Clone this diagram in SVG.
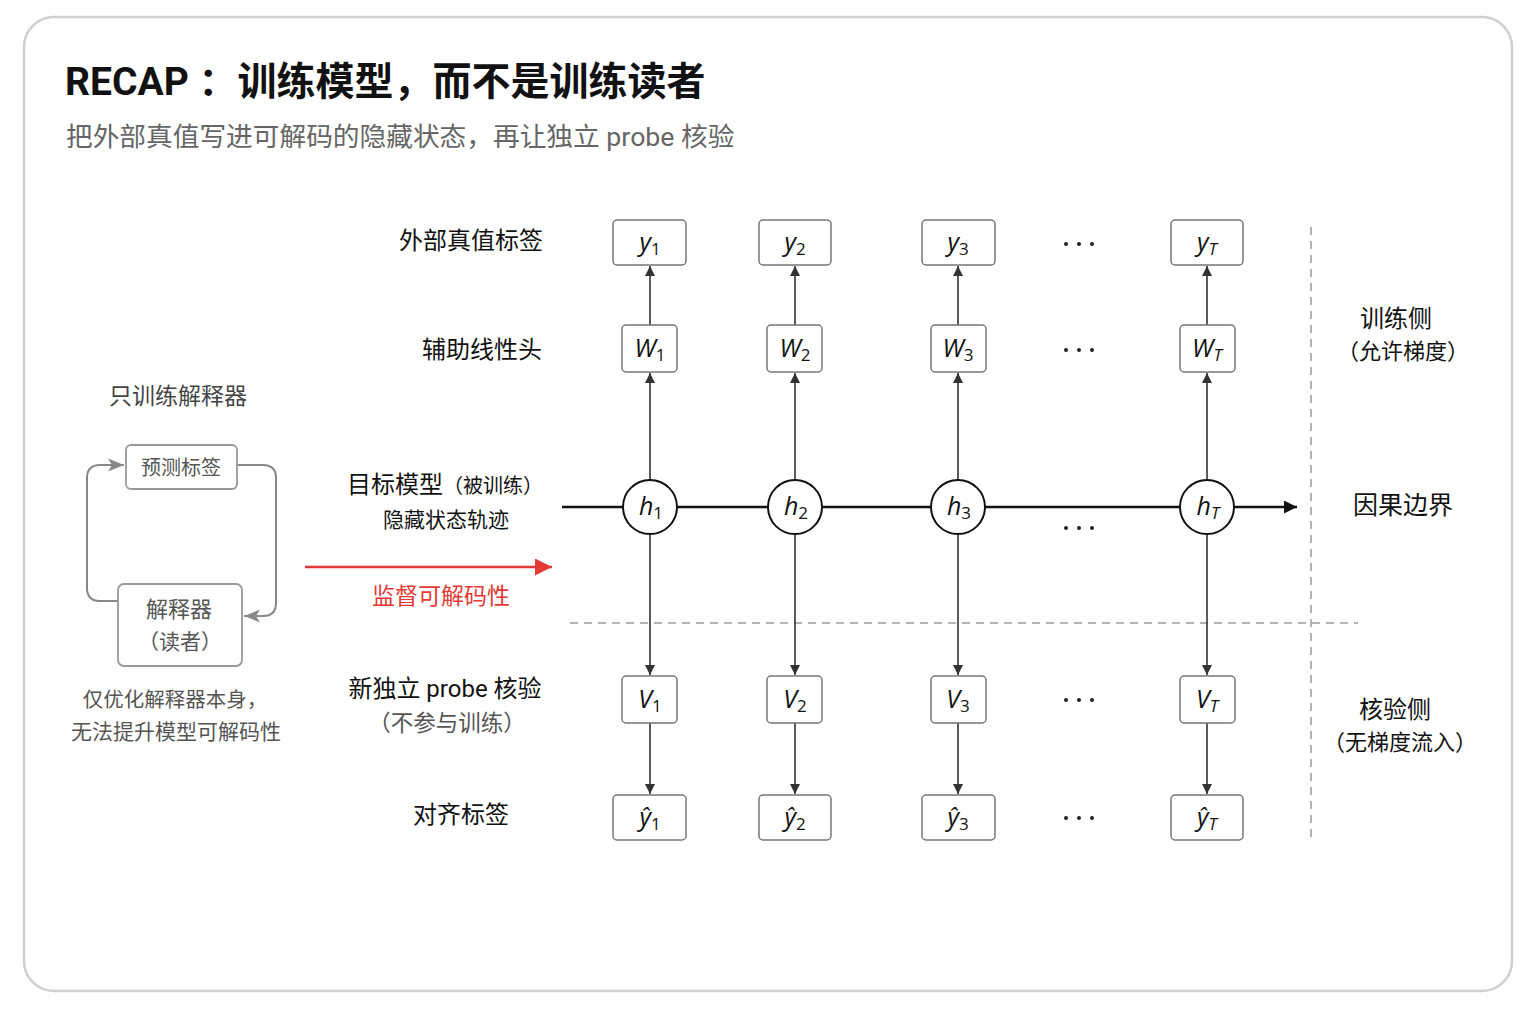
<svg xmlns="http://www.w3.org/2000/svg" width="1536" height="1024" viewBox="0 0 1536 1024">
<style>
.cjk{font-family:Roboto,"Noto Sans CJK SC",sans-serif}
.lbl{font-family:Roboto,"Noto Sans CJK SC",sans-serif;font-size:24px;fill:#111;text-anchor:middle}
.gl{font-family:Roboto,"Noto Sans CJK SC",sans-serif;fill:#555;text-anchor:middle}
.box{fill:#fff;stroke:#777;stroke-width:1.5}
.lbox{fill:#fff;stroke:#999;stroke-width:1.8}
.circ{fill:#fff;stroke:#111;stroke-width:2}
.m{font-family:"Open Sans","DejaVu Sans",sans-serif;font-style:italic;font-size:25px;fill:#111;text-anchor:middle}
.sub{font-size:17px;font-style:normal}
.subi{font-size:17px;font-style:italic}
.arr{stroke:#333;stroke-width:1.6;fill:none;marker-end:url(#ah)}
.dot{fill:#222}
</style>
<defs>
<marker id="ah" viewBox="0 0 10 10" refX="10" refY="5" markerWidth="10" markerHeight="11" markerUnits="userSpaceOnUse" orient="auto"><path d="M0,0 L10,5 L0,10 z" fill="#333"/></marker>
<marker id="ahb" viewBox="0 0 10 10" refX="10" refY="5" markerWidth="13" markerHeight="13" markerUnits="userSpaceOnUse" orient="auto"><path d="M0,0 L10,5 L0,10 z" fill="#111"/></marker>
<marker id="ahr" viewBox="0 0 10 10" refX="10" refY="5" markerWidth="17" markerHeight="17" markerUnits="userSpaceOnUse" orient="auto"><path d="M0,0 L10,5 L0,10 z" fill="#e53935"/></marker>
<marker id="ahg" viewBox="0 0 10 10" refX="10" refY="5" markerWidth="16" markerHeight="16" markerUnits="userSpaceOnUse" orient="auto"><path d="M0,1 L10,5 L0,9 L2.5,5 z" fill="#888"/></marker>
</defs>
<rect x="0" y="0" width="1536" height="1024" fill="#fff"/>
<rect x="24" y="17" width="1488" height="974" rx="30" fill="#fff" stroke="#cfcfcf" stroke-width="2.5"/>

<g id="title">
<text x="65" y="95" class="cjk" font-size="39" font-weight="700" fill="#111">RECAP ：训练模型，而不是训练读者</text>
<text x="66" y="146" class="cjk" font-size="26.7" fill="#666">把外部真值写进可解码的隐藏状态，再让独立 probe 核验</text>
</g>

<g id="guides" stroke="#999" stroke-width="1.5" stroke-dasharray="8 6" fill="none">
<line x1="570" y1="623" x2="1358" y2="623"/>
<line x1="1311" y1="227" x2="1311" y2="840"/>
</g>

<g id="connectors">
<line x1="562" y1="507" x2="1297" y2="507" stroke="#111" stroke-width="2.5" marker-end="url(#ahb)"/>
<line x1="305" y1="567" x2="552" y2="567" stroke="#e53935" stroke-width="2.5" marker-end="url(#ahr)"/>
<path d="M118,601 H100 Q87,601 87,588 V478 Q87,465 100,465 H124" stroke="#888" stroke-width="2" fill="none" marker-end="url(#ahg)"/>
<path d="M237,465 H263 Q276,465 276,478 V603 Q276,616 263,616 H244" stroke="#888" stroke-width="2" fill="none" marker-end="url(#ahg)"/>
<!-- column 1 -->
<line class="arr" x1="650" y1="325" x2="650" y2="266"/>
<line class="arr" x1="650" y1="480" x2="650" y2="373"/>
<line class="arr" x1="650" y1="534" x2="650" y2="675"/>
<line class="arr" x1="650" y1="723" x2="650" y2="794"/>
<!-- column 2 -->
<line class="arr" x1="795" y1="325" x2="795" y2="266"/>
<line class="arr" x1="795" y1="480" x2="795" y2="373"/>
<line class="arr" x1="795" y1="534" x2="795" y2="675"/>
<line class="arr" x1="795" y1="723" x2="795" y2="794"/>
<!-- column 3 -->
<line class="arr" x1="958" y1="325" x2="958" y2="266"/>
<line class="arr" x1="958" y1="480" x2="958" y2="373"/>
<line class="arr" x1="958" y1="534" x2="958" y2="675"/>
<line class="arr" x1="958" y1="723" x2="958" y2="794"/>
<!-- column T -->
<line class="arr" x1="1207" y1="325" x2="1207" y2="266"/>
<line class="arr" x1="1207" y1="480" x2="1207" y2="373"/>
<line class="arr" x1="1207" y1="534" x2="1207" y2="675"/>
<line class="arr" x1="1207" y1="723" x2="1207" y2="794"/>
</g>

<g id="row-labels">
<text class="lbl" x="471" y="249">外部真值标签</text>
<text class="lbl" x="482" y="358">辅助线性头</text>
<text class="cjk" x="347" y="493" font-size="24" fill="#111">目标模型<tspan font-size="20">（被训练）</tspan></text>
<text class="lbl" x="446" y="527" style="font-size:21px">隐藏状态轨迹</text>
<text class="lbl" x="441" y="604" style="font-size:23px;fill:#e53935">监督可解码性</text>
<text class="lbl" x="445" y="697">新独立 probe 核验</text>
<text class="gl" x="447" y="731" font-size="22.5">（不参与训练）</text>
<text class="lbl" x="461" y="823">对齐标签</text>
</g>

<g id="side-labels">
<text class="lbl" x="1396" y="327">训练侧</text>
<text class="lbl" x="1403" y="359" style="font-size:22px">（允许梯度）</text>
<text class="lbl" x="1403" y="514" style="font-size:25px">因果边界</text>
<text class="lbl" x="1395" y="718">核验侧</text>
<text class="lbl" x="1400" y="750" style="font-size:22px">（无梯度流入）</text>
</g>

<g id="decoder-only">
<text class="gl" x="178" y="404" font-size="23" style="fill:#444">只训练解释器</text>
<g id="pred-label"><rect class="lbox" x="126" y="445" width="111" height="44" rx="5"/><text class="gl" x="181" y="475" font-size="20">预测标签</text></g>
<g id="decoder"><rect class="lbox" x="118" y="584" width="124" height="82" rx="6"/><text class="gl" x="179" y="617" font-size="22">解释器</text><text class="gl" x="180" y="649" font-size="21">（读者）</text></g>
<text class="gl" x="175" y="707" font-size="20.5">仅优化解释器本身，</text>
<text class="gl" x="176" y="739" font-size="21">无法提升模型可解码性</text>
</g>

<g id="col1">
<g id="y1"><rect class="box" x="613" y="220" width="73" height="45" rx="4"/><text class="m" x="650" y="251">y<tspan class="sub" dy="4">1</tspan></text></g>
<g id="W1"><rect class="box" x="622" y="325" width="55" height="47" rx="4"/><text class="m" x="650" y="357">W<tspan class="sub" dy="4">1</tspan></text></g>
<g id="h1"><circle class="circ" cx="650" cy="507" r="27"/><text class="m" x="651" y="515">h<tspan class="sub" dy="4">1</tspan></text></g>
<g id="V1"><rect class="box" x="622" y="676" width="55" height="47" rx="4"/><text class="m" x="650" y="708">V<tspan class="sub" dy="4">1</tspan></text></g>
<g id="yh1"><rect class="box" x="613" y="795" width="73" height="45" rx="4"/><text class="m" x="650" y="826">ŷ<tspan class="sub" dy="4">1</tspan></text></g>
</g>
<g id="col2">
<g id="y2"><rect class="box" x="759" y="220" width="72" height="45" rx="4"/><text class="m" x="795" y="251">y<tspan class="sub" dy="4">2</tspan></text></g>
<g id="W2"><rect class="box" x="767" y="325" width="55" height="47" rx="4"/><text class="m" x="795" y="357">W<tspan class="sub" dy="4">2</tspan></text></g>
<g id="h2"><circle class="circ" cx="795" cy="507" r="27"/><text class="m" x="796" y="515">h<tspan class="sub" dy="4">2</tspan></text></g>
<g id="V2"><rect class="box" x="767" y="676" width="55" height="47" rx="4"/><text class="m" x="795" y="708">V<tspan class="sub" dy="4">2</tspan></text></g>
<g id="yh2"><rect class="box" x="759" y="795" width="72" height="45" rx="4"/><text class="m" x="795" y="826">ŷ<tspan class="sub" dy="4">2</tspan></text></g>
</g>
<g id="col3">
<g id="y3"><rect class="box" x="922" y="220" width="73" height="45" rx="4"/><text class="m" x="958" y="251">y<tspan class="sub" dy="4">3</tspan></text></g>
<g id="W3"><rect class="box" x="931" y="325" width="55" height="47" rx="4"/><text class="m" x="958" y="357">W<tspan class="sub" dy="4">3</tspan></text></g>
<g id="h3"><circle class="circ" cx="958" cy="507" r="27"/><text class="m" x="959" y="515">h<tspan class="sub" dy="4">3</tspan></text></g>
<g id="V3"><rect class="box" x="931" y="676" width="55" height="47" rx="4"/><text class="m" x="958" y="708">V<tspan class="sub" dy="4">3</tspan></text></g>
<g id="yh3"><rect class="box" x="922" y="795" width="73" height="45" rx="4"/><text class="m" x="958" y="826">ŷ<tspan class="sub" dy="4">3</tspan></text></g>
</g>
<g id="colT">
<g id="yT"><rect class="box" x="1171" y="220" width="72" height="45" rx="4"/><text class="m" x="1207" y="251">y<tspan class="subi" dy="4">T</tspan></text></g>
<g id="WT"><rect class="box" x="1180" y="325" width="55" height="47" rx="4"/><text class="m" x="1207" y="357">W<tspan class="subi" dy="4">T</tspan></text></g>
<g id="hT"><circle class="circ" cx="1207" cy="507" r="27"/><text class="m" x="1208" y="515">h<tspan class="subi" dy="4">T</tspan></text></g>
<g id="VT"><rect class="box" x="1180" y="676" width="55" height="47" rx="4"/><text class="m" x="1207" y="708">V<tspan class="subi" dy="4">T</tspan></text></g>
<g id="yhT"><rect class="box" x="1171" y="795" width="72" height="45" rx="4"/><text class="m" x="1207" y="826">ŷ<tspan class="subi" dy="4">T</tspan></text></g>
</g>

<g id="ellipses" class="dot">
<circle cx="1066" cy="244" r="2"/><circle cx="1079" cy="244" r="2"/><circle cx="1092" cy="244" r="2"/>
<circle cx="1066" cy="350" r="2"/><circle cx="1079" cy="350" r="2"/><circle cx="1092" cy="350" r="2"/>
<circle cx="1066" cy="528" r="2"/><circle cx="1079" cy="528" r="2"/><circle cx="1092" cy="528" r="2"/>
<circle cx="1066" cy="700" r="2"/><circle cx="1079" cy="700" r="2"/><circle cx="1092" cy="700" r="2"/>
<circle cx="1066" cy="818" r="2"/><circle cx="1079" cy="818" r="2"/><circle cx="1092" cy="818" r="2"/>
</g>
</svg>
